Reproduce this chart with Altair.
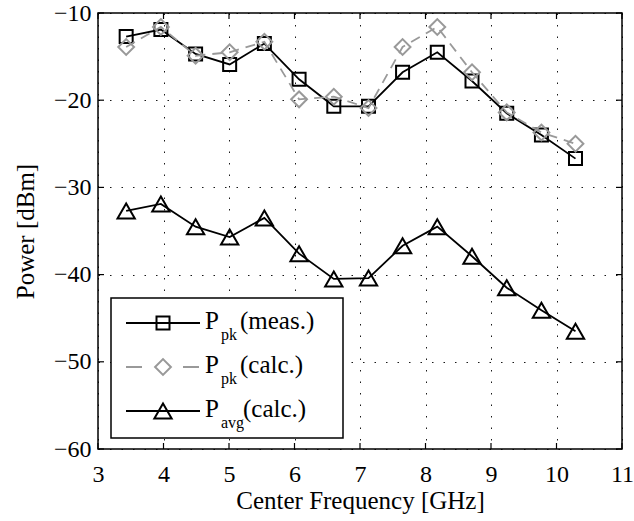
import altair as alt
import pandas as pd

# ---- data ----
freq = [3.43, 3.96, 4.49, 5.01, 5.54, 6.07, 6.60, 7.13, 7.65, 8.18, 8.71, 9.24, 9.77, 10.29]
ppk_meas = [-12.7, -11.9, -14.7, -15.9, -13.5, -17.6, -20.7, -20.7, -16.8, -14.5, -17.8, -21.5, -24.0, -26.7]
ppk_calc = [-13.9, -11.6, -14.9, -14.5, -13.3, -19.9, -19.6, -20.9, -13.9, -11.6, -16.8, -21.4, -23.7, -25.0]
pavg_calc = [-32.7, -31.9, -34.5, -35.7, -33.5, -37.6, -40.5, -40.4, -36.7, -34.5, -37.9, -41.5, -44.1, -46.5]
x_ticks = [3, 4, 5, 6, 7, 8, 9, 10, 11]
y_ticks = [-60, -50, -40, -30, -20, -10]

FONT = "Liberation Serif"
GRAY = "#999999"
W, H = 524, 436

df_meas = pd.DataFrame({"freq": freq, "p": ppk_meas})
df_calc = pd.DataFrame({"freq": freq, "p": ppk_calc})
df_avg = pd.DataFrame({"freq": freq, "p": pavg_calc})
df_xt = pd.DataFrame({"freq": x_ticks})
df_yt = pd.DataFrame({"p": y_ticks})
one = pd.DataFrame({"a": [0]})

xscale = alt.Scale(domain=[3, 11], nice=False, zero=False)
yscale = alt.Scale(domain=[-60, -10], nice=False, zero=False)

X = alt.X("freq:Q", scale=xscale,
          axis=alt.Axis(values=x_ticks, title="Center Frequency [GHz]", grid=True,
                        ticks=False, domain=False, labelFontSize=24, labelPadding=13,
                        titleFontSize=25, titleY=59, titleBaseline="alphabetic",
                        labelFlush=False, labelOverlap=False, format="d"))
Y = alt.Y("p:Q", scale=yscale,
          axis=alt.Axis(values=y_ticks, title="Power [dBm]", grid=True, ticks=False,
                        domain=False, labelFontSize=24, labelPadding=7,
                        titleFontSize=25, titleX=-73, titleY=H / 2,
                        titleBaseline="middle", labelFlush=False, labelOverlap=False,
                        format="d"))

meas_line = alt.Chart(df_meas).mark_line(color="black", strokeWidth=1.8).encode(x=X, y=Y)
meas_pts = alt.Chart(df_meas).mark_point(shape="square", size=169, filled=False,
                                         color="black", strokeWidth=2, opacity=1).encode(x=X, y=Y)
calc_line = alt.Chart(df_calc).mark_line(color=GRAY, strokeWidth=1.8, strokeDash=[10, 7]).encode(x=X, y=Y)
calc_pts = alt.Chart(df_calc).mark_point(shape="diamond", size=250, filled=False,
                                         color=GRAY, strokeWidth=2, opacity=1).encode(x=X, y=Y)
avg_line = alt.Chart(df_avg).mark_line(color="black", strokeWidth=1.8).encode(x=X, y=Y)
avg_pts = alt.Chart(df_avg).mark_point(shape="triangle-up", size=300, filled=False,
                                       color="black", strokeWidth=2, opacity=1).encode(x=X, y=Y)

# inward ticks on all four sides
tick_b = alt.Chart(df_xt).mark_rule(color="black", strokeWidth=1.2).encode(x=X, y=alt.value(H), y2=alt.value(H - 6))
tick_t = alt.Chart(df_xt).mark_rule(color="black", strokeWidth=1.2).encode(x=X, y=alt.value(0), y2=alt.value(6))
tick_l = alt.Chart(df_yt).mark_rule(color="black", strokeWidth=1.2).encode(y=Y, x=alt.value(0), x2=alt.value(6))
tick_r = alt.Chart(df_yt).mark_rule(color="black", strokeWidth=1.2).encode(y=Y, x=alt.value(W), x2=alt.value(W - 6))

# custom legend (with subscripts)
leg_box = alt.Chart(one).mark_rect(fill="white", stroke="black", strokeWidth=1.5).encode(
    x=alt.value(13), x2=alt.value(245), y=alt.value(285), y2=alt.value(425))

rows = [310, 354, 398]
leg = [leg_box]
leg.append(alt.Chart(one).mark_rule(color="black", strokeWidth=1.8).encode(
    x=alt.value(28), x2=alt.value(102), y=alt.value(rows[0])))
leg.append(alt.Chart(one).mark_point(shape="square", size=169, filled=False, color="black",
                                     strokeWidth=2, opacity=1).encode(x=alt.value(65), y=alt.value(rows[0])))
leg.append(alt.Chart(one).mark_rule(color=GRAY, strokeWidth=1.8, strokeDash=[16, 41]).encode(
    x=alt.value(28), x2=alt.value(102), y=alt.value(rows[1])))
leg.append(alt.Chart(one).mark_point(shape="diamond", size=250, filled=False, color=GRAY,
                                     strokeWidth=2, opacity=1).encode(x=alt.value(65), y=alt.value(rows[1])))
leg.append(alt.Chart(one).mark_rule(color="black", strokeWidth=1.8).encode(
    x=alt.value(28), x2=alt.value(102), y=alt.value(rows[2])))
leg.append(alt.Chart(one).mark_point(shape="triangle-up", size=300, filled=False, color="black",
                                     strokeWidth=2, opacity=1).encode(x=alt.value(65), y=alt.value(rows[2])))

labels = [("pk", "(meas.)", 142), ("pk", "(calc.)", 142), ("avg", "(calc.)", 145)]
for r, (sub, rest, rx) in zip(rows, labels):
    leg.append(alt.Chart(one).mark_text(text="P", font=FONT, fontSize=25, align="left",
                                        baseline="alphabetic", color="black").encode(
        x=alt.value(107), y=alt.value(r + 6)))
    leg.append(alt.Chart(one).mark_text(text=sub, font=FONT, fontSize=16, align="left",
                                        baseline="alphabetic", color="black").encode(
        x=alt.value(123), y=alt.value(r + 17)))
    leg.append(alt.Chart(one).mark_text(text=rest, font=FONT, fontSize=25, align="left",
                                        baseline="alphabetic", color="black").encode(
        x=alt.value(rx), y=alt.value(r + 6)))

chart = alt.layer(
    meas_line, meas_pts, calc_line, calc_pts, avg_line, avg_pts,
    tick_b, tick_t, tick_l, tick_r, *leg
).properties(
    width=W, height=H,
    padding={"left": 98, "top": 13, "right": 12, "bottom": 72},
    autosize=alt.AutoSizeParams(type="none"),
    background="white",
).configure_view(
    stroke="black", strokeWidth=1.5
).configure_axis(
    labelFont=FONT, titleFont=FONT, labelColor="black", titleColor="black",
    titleFontWeight="normal", gridColor="black", gridDash=[1.5, 10], gridWidth=1,
    gridOpacity=0.9
)

chart.save("out.html", embed_options={"renderer": "svg", "actions": False})
